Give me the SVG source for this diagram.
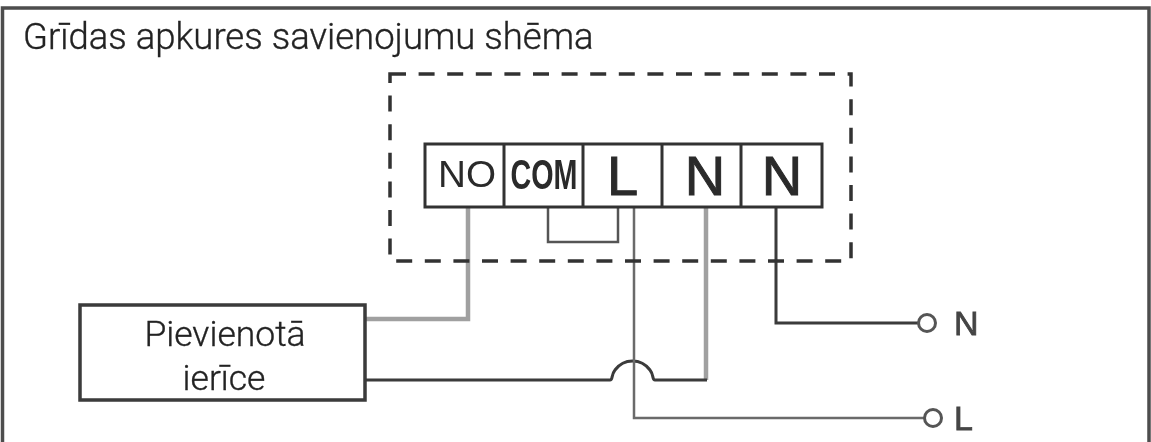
<svg xmlns="http://www.w3.org/2000/svg" width="1151" height="442" viewBox="0 0 1151 442">
<defs><filter id="soft" x="-2%" y="-2%" width="104%" height="104%"><feGaussianBlur stdDeviation="0.55"/></filter></defs>
<style>
text{font-family:"Roboto","Liberation Sans",sans-serif;fill:#222}
.t{font-size:36.5px;font-weight:300;stroke:#222;stroke-width:.35}
.c{font-size:35.5px;font-weight:300;text-anchor:middle;stroke:#222;stroke-width:.35}
.k{font-family:"Liberation Sans",sans-serif;text-anchor:middle;fill:#2a2a2a}
.b{stroke:#2a2a2a;stroke-width:1}
.s{font-family:"Liberation Sans",sans-serif;font-size:34px;fill:#444;stroke:#444;stroke-width:.8}
.d{fill:none;stroke:#3a3a3a;stroke-width:3}
.g{fill:none;stroke:#a0a0a0;stroke-width:4.5}
.m{fill:none;stroke:#6a6a6a;stroke-width:2.5}
.j{fill:none;stroke:#555;stroke-width:2.5}
.o{fill:#fff;stroke:#555;stroke-width:3}
</style>
<rect width="1151" height="442" fill="#fff"/>
<g filter="url(#soft)">
<g id="frame"><path d="M2.5 442V8H1149V442" fill="none" stroke="#4d4d4d" stroke-width="3.5"/></g>
<text id="title" class="t" x="23" y="49">Grīdas apkures savienojumu shēma</text>
<g id="connectors">
<path class="g" d="M468 207V319H366"/>
<path class="g" d="M706 207V380"/>
<path class="d" d="M366 380H610C613 380 611 375 615 370C624 358 641 358 650 370C654 375 652 380 655 380H707"/>
<path class="m" d="M634 207V418H924"/>
<path class="d" d="M776 207V323H918"/>
<path class="j" d="M548 207V242H618V207"/>
</g>
<g id="enclosure"><rect x="390" y="74" width="461" height="187" fill="none" stroke="#333" stroke-width="3.5" stroke-dasharray="16 12.6"/></g>
<g id="terminals">
<rect x="425" y="144" width="397" height="63" fill="none" stroke="#333" stroke-width="3"/>
<path d="M504 144V207M583 144V207M662 144V207M741 144V207" stroke="#333" stroke-width="3"/>
<text class="k" x="467" y="187" font-size="36" textLength="58" lengthAdjust="spacingAndGlyphs">NO</text>
<text class="k" x="544" y="189" font-size="42" font-weight="700" textLength="67" lengthAdjust="spacingAndGlyphs">COM</text>
<text class="k b" x="622.5" y="195" font-size="56">L</text>
<text class="k b" x="705" y="195" font-size="56">N</text>
<text class="k b" x="782" y="195" font-size="56">N</text>
</g>
<g id="device">
<rect x="80" y="305" width="285" height="95" fill="#fff" stroke="#3a3a3a" stroke-width="3.5"/>
<text class="c" x="225" y="346">Pievienotā</text>
<text class="c" x="224" y="390">ierīce</text>
</g>
<g id="terminal-n"><circle class="o" cx="927" cy="323" r="8.5"/><text class="s" x="954" y="335">N</text></g>
<g id="terminal-l"><circle class="o" cx="933" cy="418" r="8.5"/><text class="s" x="954" y="430">L</text></g>
</g>
</svg>
